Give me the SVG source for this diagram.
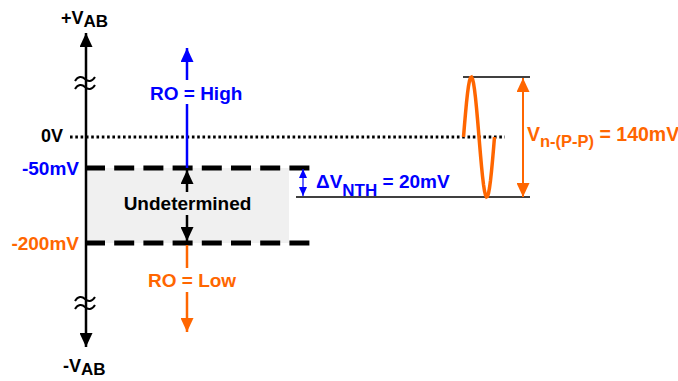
<svg xmlns="http://www.w3.org/2000/svg" width="678" height="381" viewBox="0 0 678 381">
<defs>
<style>
text{font-family:"Liberation Sans",Arial,sans-serif;font-weight:bold;}
.blk{fill:#000}
.blu{fill:#0000ff}
.org{fill:#ff6600}
.axis{stroke:#000;stroke-width:2.5;fill:none}
.dash{stroke:#000;stroke-width:5;stroke-dasharray:20 9.2;fill:none}
.dot{stroke:#000;stroke-width:3;stroke-dasharray:2.6 2.7;fill:none}
.thin{stroke:#000;stroke-width:1.5;fill:none}
.tilde{stroke:#000;stroke-width:2;fill:none}
</style>
<marker id="ahK" markerUnits="userSpaceOnUse" markerWidth="14" markerHeight="13" refX="14" refY="6.5" orient="auto-start-reverse" viewBox="0 0 14 13"><path d="M0,0 L14,6.5 L0,13 z" fill="#000"/></marker>
<marker id="ahB" markerUnits="userSpaceOnUse" markerWidth="14" markerHeight="13" refX="14" refY="6.5" orient="auto-start-reverse" viewBox="0 0 14 13"><path d="M0,0 L14,6.5 L0,13 z" fill="#0000ff"/></marker>
<marker id="ahO" markerUnits="userSpaceOnUse" markerWidth="14" markerHeight="13" refX="14" refY="6.5" orient="auto-start-reverse" viewBox="0 0 14 13"><path d="M0,0 L14,6.5 L0,13 z" fill="#ff6600"/></marker>
<marker id="ahBs" markerUnits="userSpaceOnUse" markerWidth="9" markerHeight="8" refX="9" refY="4" orient="auto-start-reverse" viewBox="0 0 9 8"><path d="M0,0 L9,4 L0,8 z" fill="#0000ff"/></marker>
</defs>
<rect width="678" height="381" fill="#fff"/>

<g id="undetermined-region">
<rect x="86" y="168" width="203" height="75" fill="#f0f0f0"/>
<text x="187.5" y="210" font-size="19" text-anchor="middle" class="blk">Undetermined</text>
</g>

<g id="levels">
<line class="dot" x1="70" y1="137" x2="505" y2="137"/>
<line class="dash" x1="85" y1="168" x2="310" y2="168"/>
<line class="dash" x1="85" y1="243" x2="310" y2="243"/>
<line class="thin" x1="296" y1="197" x2="530" y2="197"/>
<line class="thin" x1="463" y1="77" x2="530" y2="77"/>
</g>

<g id="axis">
<line class="axis" x1="86" y1="33" x2="86" y2="347" marker-start="url(#ahK)" marker-end="url(#ahK)"/>
<path class="tilde" d="M75,81 C78,76 82,76 85,79 S92,82 95,77"/>
<path class="tilde" d="M75,89 C78,84 82,84 85,87 S92,90 95,85"/>
<path class="tilde" d="M75,301 C78,296 82,296 85,299 S92,302 95,297"/>
<path class="tilde" d="M75,309 C78,304 82,304 85,307 S92,310 95,305"/>
<text x="61" y="24" font-size="18" class="blk">+V<tspan font-size="17" dy="3">AB</tspan></text>
<text x="63" y="372" font-size="18" class="blk">-V<tspan font-size="17" dy="3">AB</tspan></text>
<text x="63" y="142" font-size="18" text-anchor="end" class="blk">0V</text>
<text x="79" y="175" font-size="19" text-anchor="end" class="blu">-50mV</text>
<text x="79" y="250" font-size="19" text-anchor="end" class="org">-200mV</text>
</g>

<g id="ro-high">
<line x1="187" y1="48" x2="187" y2="80" stroke="#0000ff" stroke-width="2.5" marker-start="url(#ahB)"/>
<line x1="187" y1="104" x2="187" y2="168" stroke="#0000ff" stroke-width="2.5"/>
<text x="150" y="99.5" font-size="19" class="blu">RO = High</text>
</g>

<g id="undetermined-arrow">
<line x1="187" y1="170" x2="187" y2="192" stroke="#000" stroke-width="2.5" marker-start="url(#ahK)"/>
<line x1="187" y1="215" x2="187" y2="241" stroke="#000" stroke-width="2.5" marker-end="url(#ahK)"/>
</g>

<g id="ro-low">
<line x1="187" y1="245" x2="187" y2="268" stroke="#ff6600" stroke-width="2.5"/>
<line x1="187" y1="292" x2="187" y2="332" stroke="#ff6600" stroke-width="2.5" marker-end="url(#ahO)"/>
<text x="148" y="287" font-size="19" class="org">RO = Low</text>
</g>

<g id="delta-vnth">
<line x1="303" y1="169" x2="303" y2="196" stroke="#0000ff" stroke-width="1.2" marker-start="url(#ahBs)" marker-end="url(#ahBs)"/>
<text x="316" y="188" font-size="19" class="blu">ΔV<tspan font-size="17" dy="8">NTH</tspan><tspan dy="-8"> = 20mV</tspan></text>
</g>

<g id="noise">
<polyline fill="none" stroke="#ff6600" stroke-width="3.5" points="463.5,137 464.5,124.9 465.5,113.3 466.5,102.7 467.5,93.5 468.5,86.1 469.5,80.7 470.5,77.7 471.5,77.1 472.5,78.9 473.5,83.1 474.5,89.6 475.5,97.9 476.5,107.9 477.5,119 478.5,130.9 479.5,143.1 480.5,155 481.5,166.1 482.5,176.1 483.5,184.4 484.5,190.9 485.5,195.1 486.5,196.9 487.5,196.3 488.5,193.3 489.5,187.9 490.5,180.5 491.5,171.3 492.5,160.7 493.5,149.1 494.5,137"/>
<line x1="523" y1="78" x2="523" y2="197" stroke="#ff6600" stroke-width="2" marker-start="url(#ahO)" marker-end="url(#ahO)"/>
<text x="527" y="141" font-size="19.5" class="org">V<tspan font-size="16.5" dy="6">n-(P-P)</tspan><tspan dy="-6"> = 140mV</tspan></text>
</g>
</svg>
